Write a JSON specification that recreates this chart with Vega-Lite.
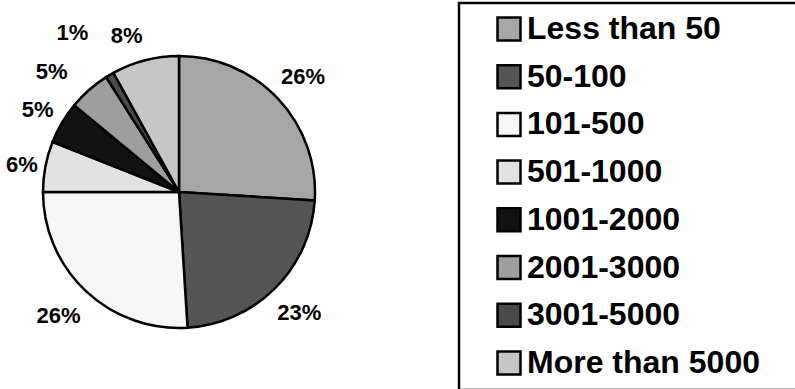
{
  "$schema": "https://vega.github.io/schema/vega-lite/v6.json",
  "width": 358,
  "height": 378,
  "padding": {"left": 0, "top": 3, "right": 437, "bottom": 8},
  "autosize": {"type": "none"},
  "background": "white",
  "config": {"view": {"stroke": null}},
  "data": {
    "values": [
      {"range": "Less than 50", "pct": 26},
      {"range": "50-100", "pct": 23},
      {"range": "101-500", "pct": 26},
      {"range": "501-1000", "pct": 6},
      {"range": "1001-2000", "pct": 5},
      {"range": "2001-3000", "pct": 5},
      {"range": "3001-5000", "pct": 1},
      {"range": "More than 5000", "pct": 8}
    ]
  },
  "transform": [
    {"window": [{"op": "row_number", "as": "k"}]},
    {"stack": "pct", "groupby": [], "sort": [{"field": "k", "order": "ascending"}], "as": ["s0", "s1"]},
    {"calculate": "(datum.s0 + datum.s1) / 2", "as": "mid"},
    {"calculate": "datum.pct + '%'", "as": "label"}
  ],
  "layer": [
    {
      "mark": {"type": "arc", "outerRadius": 136, "stroke": "black", "strokeWidth": 2.5},
      "encoding": {
        "theta": {"field": "s0", "type": "quantitative", "stack": null, "scale": {"domain": [0, 100]}},
        "theta2": {"field": "s1"},
        "color": {
          "field": "range",
          "type": "nominal",
          "sort": ["Less than 50", "50-100", "101-500", "501-1000", "1001-2000", "2001-3000", "3001-5000", "More than 5000"],
          "scale": {
            "domain": ["Less than 50", "50-100", "101-500", "501-1000", "1001-2000", "2001-3000", "3001-5000", "More than 5000"],
            "range": ["#a6a6a6", "#555555", "#f6f6f6", "#e2e2e2", "#121212", "#9e9e9e", "#4a4a4a", "#c6c6c6"]
          },
          "legend": {
            "title": null,
            "orient": "right",
            "offset": 101,
            "padding": 10,
            "strokeColor": "black",
            "symbolType": "square",
            "symbolSize": 529,
            "symbolStrokeColor": "black",
            "symbolStrokeWidth": 2.5,
            "symbolOffset": 24,
            "labelOffset": 2,
            "labelFont": "Liberation Sans",
            "labelFontWeight": "bold",
            "labelFontSize": 32,
            "labelColor": "black",
            "labelLimit": 800,
            "rowPadding": 13.7,
            "labelExpr": "datum.label + '\u2800\u2800\u2800'",
            "encode": {"legend": {"update": {"strokeWidth": {"value": 2.5}}}}
          }
        }
      }
    },
    {
      "transform": [{"filter": "datum.range == 'Less than 50' || datum.range == '50-100'"}],
      "mark": {"type": "text", "radius": 170, "dx": 0, "dy": 1, "font": "Liberation Sans", "fontWeight": "bold", "fontSize": 22, "color": "black"},
      "encoding": {
        "theta": {"field": "mid", "type": "quantitative", "stack": null, "scale": {"domain": [0, 100]}},
        "text": {"field": "label", "type": "nominal"}
      }
    },
    {
      "transform": [{"filter": "datum.range == '101-500'"}],
      "mark": {"type": "text", "radius": 170, "dx": -4, "dy": 0, "font": "Liberation Sans", "fontWeight": "bold", "fontSize": 22, "color": "black"},
      "encoding": {
        "theta": {"field": "mid", "type": "quantitative", "stack": null, "scale": {"domain": [0, 100]}},
        "text": {"field": "label", "type": "nominal"}
      }
    },
    {
      "transform": [{"filter": "datum.range == '501-1000'"}],
      "mark": {"type": "text", "radius": 170, "dx": 10, "dy": 5, "font": "Liberation Sans", "fontWeight": "bold", "fontSize": 22, "color": "black"},
      "encoding": {
        "theta": {"field": "mid", "type": "quantitative", "stack": null, "scale": {"domain": [0, 100]}},
        "text": {"field": "label", "type": "nominal"}
      }
    },
    {
      "transform": [{"filter": "datum.range == '1001-2000'"}],
      "mark": {"type": "text", "radius": 170, "dx": 5, "dy": 5, "font": "Liberation Sans", "fontWeight": "bold", "fontSize": 22, "color": "black"},
      "encoding": {
        "theta": {"field": "mid", "type": "quantitative", "stack": null, "scale": {"domain": [0, 100]}},
        "text": {"field": "label", "type": "nominal"}
      }
    },
    {
      "transform": [{"filter": "datum.range == '2001-3000'"}],
      "mark": {"type": "text", "radius": 170, "dx": -15, "dy": 8, "font": "Liberation Sans", "fontWeight": "bold", "fontSize": 22, "color": "black"},
      "encoding": {
        "theta": {"field": "mid", "type": "quantitative", "stack": null, "scale": {"domain": [0, 100]}},
        "text": {"field": "label", "type": "nominal"}
      }
    },
    {
      "transform": [{"filter": "datum.range == '3001-5000'"}],
      "mark": {"type": "text", "radius": 170, "dx": -20, "dy": -13, "font": "Liberation Sans", "fontWeight": "bold", "fontSize": 22, "color": "black"},
      "encoding": {
        "theta": {"field": "mid", "type": "quantitative", "stack": null, "scale": {"domain": [0, 100]}},
        "text": {"field": "label", "type": "nominal"}
      }
    },
    {
      "transform": [{"filter": "datum.range == 'More than 5000'"}],
      "mark": {"type": "text", "radius": 170, "dx": -10, "dy": 9, "font": "Liberation Sans", "fontWeight": "bold", "fontSize": 22, "color": "black"},
      "encoding": {
        "theta": {"field": "mid", "type": "quantitative", "stack": null, "scale": {"domain": [0, 100]}},
        "text": {"field": "label", "type": "nominal"}
      }
    }
  ]
}
